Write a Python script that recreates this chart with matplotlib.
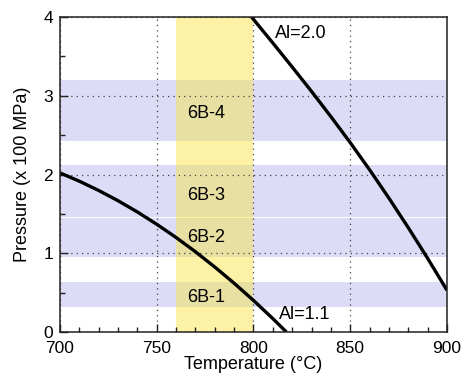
import matplotlib
matplotlib.use("Agg")
import matplotlib.pyplot as plt
from matplotlib.ticker import MultipleLocator

plt.rcParams['font.family'] = ['Liberation Sans', 'DejaVu Sans']

# Al=1.1 boundary
t_low = [700, 710, 720, 730, 740, 750, 760, 770, 780, 790, 800, 810, 817]
p_low = [2.02, 1.915, 1.797, 1.667, 1.524, 1.368, 1.20, 1.019, 0.825, 0.619, 0.401, 0.17, 0.0]

# Al=2.0 boundary
t_high = [799, 810, 820, 830, 840, 850, 860, 870, 880, 890, 900]
p_high = [4.0, 3.67, 3.365, 3.055, 2.735, 2.405, 2.06, 1.70, 1.325, 0.935, 0.53]

# experiment pressure ranges
band_names = ['6B-1', '6B-2', '6B-3', '6B-4']
band_lo = [0.32, 0.95, 1.465, 2.42]
band_hi = [0.64, 1.45, 2.12, 3.2]
band_label_p = [0.44, 1.20, 1.73, 2.78]

# temperature window
t_win = [760, 800]

blue = '#dcdcf6'
yellow = '#fdf1a5'
tan = '#e8dfa2'

fig = plt.figure(figsize=(4.63, 3.78), dpi=100)
ax = fig.add_axes([0.1296, 0.1217, 0.8358, 0.8333])

for lo, hi in zip(band_lo, band_hi):
    ax.axhspan(lo, hi, color=blue, lw=0, zorder=0.5)
ax.axvspan(t_win[0], t_win[1], color=yellow, lw=0, zorder=0.6)
for lo, hi in zip(band_lo, band_hi):
    ax.fill_between(t_win, lo, hi, color=tan, lw=0, zorder=0.7)

ax.plot(t_low, p_low, color='black', lw=2.4, solid_capstyle='butt')
ax.plot(t_high, p_high, color='black', lw=2.4, solid_capstyle='butt')

for name, p in zip(band_names, band_label_p):
    ax.text(775.5, p, name, ha='center', va='center', fontsize=13)

ax.text(811, 3.79, 'Al=2.0', ha='left', va='center', fontsize=13)
ax.text(813, 0.22, 'Al=1.1', ha='left', va='center', fontsize=13)

ax.set_xlim(700, 900)
ax.set_ylim(0, 4)
ax.xaxis.set_major_locator(MultipleLocator(50))
ax.xaxis.set_minor_locator(MultipleLocator(10))
ax.yaxis.set_major_locator(MultipleLocator(1))
ax.yaxis.set_minor_locator(MultipleLocator(0.5))
ax.tick_params(which='both', direction='in', top=False, right=False,
               labelsize=12.5, color='#222222')
ax.tick_params(axis='x', pad=6.5)
ax.tick_params(axis='y', pad=5)
ax.tick_params(which='major', length=6, width=1)
ax.tick_params(which='minor', length=3.5, width=1)

ax.grid(True, which='major', color='#444444', lw=0.9, linestyle=(0, (1, 3.3)))

for s in ax.spines.values():
    s.set_linewidth(1.1)
    s.set_color('#222222')
    s.set_zorder(3)

ax.set_xlabel('Temperature (\u00b0C)', fontsize=13, labelpad=0)
ax.set_ylabel('Pressure (x 100 MPa)', fontsize=13, labelpad=9)

fig.savefig('out.png', dpi=100)
